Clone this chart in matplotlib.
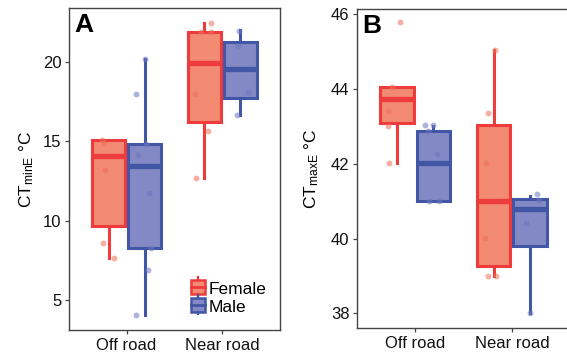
import numpy as np
import matplotlib
matplotlib.use("Agg")
import matplotlib.pyplot as plt
from matplotlib.legend_handler import HandlerBase
from matplotlib.patches import Rectangle
from matplotlib.lines import Line2D

plt.rcParams['font.family'] = ['Liberation Sans', 'DejaVu Sans']
plt.rcParams['mathtext.fontset'] = 'custom'
plt.rcParams['mathtext.rm'] = 'Liberation Sans'
plt.rcParams['mathtext.it'] = 'Liberation Sans:italic'

sites = ['Off road', 'Near road']
sexes = ['Female', 'Male']

# box stats: (whislo, q1, med, q3, whishi)
# panel A, CTminE
a_box = {
    ('Female', 'Off road'): (7.62, 9.67, 14.08, 15.08, 15.08),
    ('Male', 'Off road'): (4.03, 8.27, 13.45, 14.82, 20.19),
    ('Female', 'Near road'): (12.69, 16.22, 19.98, 21.92, 22.47),
    ('Male', 'Near road'): (16.70, 17.72, 19.58, 21.29, 22.05),
}
a_pts = {
    ('Female', 'Off road'): [15.1, 14.93, 13.18, 8.57, 7.64],
    ('Male', 'Off road'): [14.82, 14.13, 20.19, 18.01, 11.76, 8.27, 6.84, 4.03],
    ('Female', 'Near road'): [22.51, 21.92, 21.92, 18.01, 15.67, 12.69],
    ('Male', 'Near road'): [22.0, 21.04, 18.12, 16.70],
}
# horizontal jitter of each point (category units)
a_jit = {
    ('Female', 'Off road'): [-0.07, -0.045, -0.04, -0.06, 0.06],
    ('Male', 'Off road'): [0.02, -0.07, 0.0, -0.09, 0.05, 0.07, 0.04, -0.09],
    ('Female', 'Near road'): [0.07, -0.04, 0.07, -0.10, 0.04, -0.09],
    ('Male', 'Near road'): [-0.01, -0.03, 0.08, -0.04],
}

# panel B, CTmaxE
b_box = {
    ('Female', 'Off road'): (42.03, 43.10, 43.73, 44.05, 44.05),
    ('Male', 'Off road'): (41.01, 41.01, 42.03, 42.88, 43.02),
    ('Female', 'Near road'): (39.01, 39.26, 41.01, 43.03, 45.05),
    ('Male', 'Near road'): (38.0, 39.81, 40.78, 41.06, 41.15),
}
b_pts = {
    ('Female', 'Off road'): [45.78, 44.05, 43.41, 43.02, 42.03],
    ('Male', 'Off road'): [43.03, 43.03, 42.87, 42.26, 41.01, 41.01],
    ('Female', 'Near road'): [45.05, 43.37, 42.03, 40.02, 39.01, 39.01],
    ('Male', 'Near road'): [41.18, 41.02, 40.42, 38.0],
}
b_jit = {
    ('Female', 'Off road'): [0.03, -0.05, -0.09, -0.09, -0.08],
    ('Male', 'Off road'): [-0.09, 0.0, -0.05, 0.04, -0.04, 0.06],
    ('Female', 'Near road'): [0.01, -0.06, -0.08, -0.09, -0.06, 0.02],
    ('Male', 'Near road'): [0.07, 0.09, -0.04, 0.0],
}

edge = {'Female': '#EE3B3B', 'Male': '#4256A6'}
fill = {'Female': '#F38A72', 'Male': '#8389C4'}
dot = {'Female': '#EE7058', 'Male': '#6C76C0'}
dodge = {'Female': -0.1875, 'Male': 0.1875}
spine_col = '#444444'


def draw_panel(ax, box, pts, jit):
    for sex in sexes:
        for i, site in enumerate(sites):
            lo, q1, med, q3, hi = box[(sex, site)]
            pos = i + 1 + dodge[sex]
            st = dict(whislo=lo, q1=q1, med=med, q3=q3, whishi=hi)
            ax.bxp([st], positions=[pos], widths=0.345, patch_artist=True,
                   showfliers=False, showcaps=False,
                   boxprops=dict(facecolor=fill[sex], edgecolor=edge[sex], linewidth=2.2),
                   medianprops=dict(color=edge[sex], linewidth=3.8, solid_capstyle='butt'),
                   whiskerprops=dict(color=edge[sex], linewidth=2.2))
            y = pts[(sex, site)]
            x = pos + np.array(jit[(sex, site)])
            ax.scatter(x, y, s=18, color=dot[sex], alpha=0.55, linewidths=0, zorder=4)
    ax.set_xlim(0.4, 2.6)
    ax.set_xticks([1, 2])
    ax.set_xticklabels(sites)
    for s in ax.spines.values():
        s.set_color(spine_col)
        s.set_linewidth(1.0)
    ax.tick_params(colors=spine_col, labelcolor='#111111', labelsize=12,
                   length=3, width=0.9, pad=2.5)


class BoxHandler(HandlerBase):
    def create_artists(self, legend, orig, xd, yd, w, h, fs, trans):
        sex = orig.get_label()
        bw = w * 0.85
        x0 = xd + (w - bw) / 2
        r = Rectangle((x0, yd), bw, h, facecolor=fill[sex],
                      edgecolor=edge[sex], linewidth=1.8, transform=trans)
        m = Line2D([x0, x0 + bw], [yd + h / 2] * 2, color=edge[sex], lw=2.0, transform=trans)
        cx = x0 + bw / 2
        w1 = Line2D([cx, cx], [yd + h, yd + h + 2], color=edge[sex], lw=1.6, transform=trans)
        w2 = Line2D([cx, cx], [yd, yd - 2], color=edge[sex], lw=1.6, transform=trans)
        return [r, m, w1, w2]


fig = plt.figure(figsize=(5.67, 3.53), dpi=100)
axA = fig.add_axes([0.1217, 0.065, 0.3721, 0.912])
axB = fig.add_axes([0.6296, 0.0708, 0.3757, 0.904])

draw_panel(axA, a_box, a_pts, a_jit)
axA.set_ylim(3.075, 23.425)
axA.set_yticks([5, 10, 15, 20])
axA.set_ylabel(r'CT$_{\mathrm{minE}}$ °C', fontsize=12.5, labelpad=5)
axA.text(0.025, 0.985, 'A', transform=axA.transAxes, fontsize=19, fontweight='bold',
         va='top', ha='left')

draw_panel(axB, b_box, b_pts, b_jit)
axB.set_ylim(37.61, 46.14)
axB.set_yticks([38, 40, 42, 44, 46])
axB.set_ylabel(r'CT$_{\mathrm{maxE}}$ °C', fontsize=12.5, labelpad=7)
axB.text(0.025, 0.985, 'B', transform=axB.transAxes, fontsize=19, fontweight='bold',
         va='top', ha='left')

handles = [Rectangle((0, 0), 1, 1, label=s) for s in sexes]
axA.legend(handles=handles, labels=sexes, handler_map={Rectangle: BoxHandler()},
           loc='lower right', bbox_to_anchor=(0.985, 0.013), frameon=False,
           fontsize=12.5, handlelength=1.0, handleheight=0.85, handletextpad=0.1,
           labelspacing=0.12, borderaxespad=0.2)

fig.savefig('out.png', dpi=100)
